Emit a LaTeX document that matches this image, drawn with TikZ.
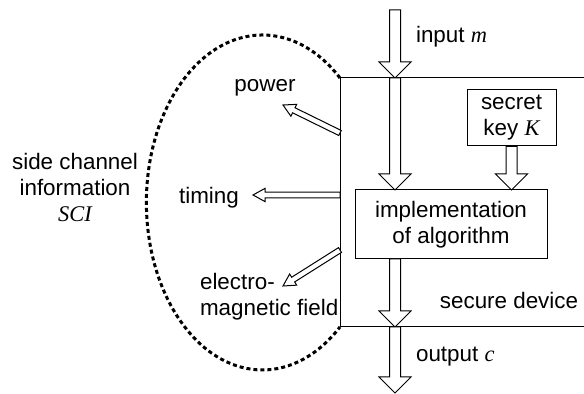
\documentclass[tikz,border=0pt]{standalone}
\usepackage{fontspec}
\setmainfont{Liberation Sans}
\newfontfamily\tms{Liberation Serif}
\usetikzlibrary{calc}
\newcommand{\vr}[1]{{\tms\itshape #1}}
\tikzset{
	blockarrow/.style n args={3}{%
		draw, fill=white, line width=0.5pt,
		to path={
			($(\tikztostart)!#1!90:(\tikztotarget)$)
			-- ($(\tikztotarget)!#3!(\tikztostart)!#1!-90:(\tikztostart)$)
			-- ($(\tikztotarget)!#3!(\tikztostart)!#2!-90:(\tikztostart)$)
			-- (\tikztotarget)
			-- ($(\tikztotarget)!#3!(\tikztostart)!#2!90:(\tikztostart)$)
			-- ($(\tikztotarget)!#3!(\tikztostart)!#1!90:(\tikztostart)$)
			-- ($(\tikztostart)!#1!-90:(\tikztotarget)$)
			-- cycle}},
	bigarrow/.style={blockarrow={2.75pt}{8pt}{8pt}},
	smallarrow/.style={blockarrow={1.4pt}{3.3pt}{6pt}},
	box/.style={draw, line width=0.5pt, align=center, inner sep=0pt},
	scidash/.style={line width=1.5pt, dash pattern=on 2pt off 1.5pt}
}
\begin{document}
\begin{tikzpicture}[x=0.5pt,y=-0.5pt,font=\fontsize{11.2}{13}\selectfont]
	\useasboundingbox (0,0) rectangle (584,394);
	% secure device
	\coordinate (devtl) at (340,78);
	\coordinate (devbl) at (340,327);
	\coordinate (devtr) at (584,78);
	\coordinate (devbr) at (584,327);
	\draw[scidash] (devtl) arc[start angle=48, end angle=312, x radius=58pt, y radius=83.75pt];
	\draw[line width=0.5pt] (devtr) -- (devtl) -- (devbl) -- (devbr);
	\node[box, minimum width=96pt, minimum height=34.5pt] (impl) at (451,224.5) {implementation\\of algorithm};
	\node[box, minimum width=44.5pt, minimum height=28pt] (key) at (511.5,118) {secret\\key \vr{K}};
	% data flow
	\coordinate (inp) at (395,10);
	\coordinate (intop) at (395,78);
	\coordinate (inimpl) at (395,190);
	\coordinate (keyimpl) at (511.5,190);
	\coordinate (outimpl) at (395,259);
	\coordinate (outbot) at (395,327);
	\coordinate (outp) at (395,393);
	\draw[bigarrow] (inp) to (intop);
	\draw[bigarrow] (intop) to (inimpl);
	\draw[bigarrow] (key.south) to (keyimpl);
	\draw[bigarrow] (outimpl) to (outbot);
	\draw[bigarrow] (outbot) to (outp);
	% leakage
	\coordinate (pw1) at (340,133);
	\coordinate (pw2) at (283,105);
	\coordinate (tm1) at (340,195);
	\coordinate (tm2) at (253,195);
	\coordinate (em1) at (340,250);
	\coordinate (em2) at (283,286);
	\draw[smallarrow] (pw1) to (pw2);
	\draw[smallarrow] (tm1) to (tm2);
	\draw[smallarrow] (em1) to (em2);
	% labels
	\node[anchor=west] (inlbl) at (409,37) {input \vr{m}};
	\node[anchor=west] (outlbl) at (409,357) {output \vr{c}};
	\node (devlbl) at (509,300) {secure device};
	\node (pwlbl) at (265,88) {power};
	\node (tmlbl) at (209,198) {timing};
	\node[anchor=west, align=left] (emlbl) at (193,297) {electro-\\magnetic field};
	\node[align=center] (scilbl) at (75,187) {side channel\\information\\\vr{SCI}};
\end{tikzpicture}
\end{document}
